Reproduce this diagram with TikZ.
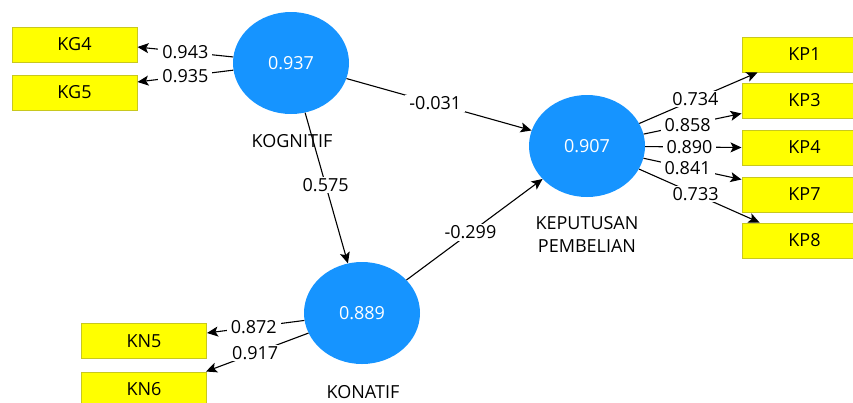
\documentclass[tikz,border=0pt]{standalone}
\usepackage{fontspec}
\setmainfont{Open Sans}
\usetikzlibrary{shapes.geometric,arrows.meta,calc}
\definecolor{lvblue}{RGB}{22,148,255}
\definecolor{boxyel}{RGB}{255,255,0}
\definecolor{boxedge}{RGB}{200,200,30}
\begin{document}
\begin{tikzpicture}[x=1pt,y=-1pt,
  every node/.style={font=\fontsize{18}{23}\selectfont},
  latent/.style={ellipse, fill=lvblue, minimum width=116pt, minimum height=102pt, inner sep=0pt, text=white},
  indicator/.style={rectangle, fill=boxyel, draw=boxedge, line width=1pt, minimum width=125pt, minimum height=35pt, inner sep=0pt},
  conn/.style={draw=black, line width=1.1pt, -{Stealth[length=11pt,width=10pt,inset=2.5pt]}},
  coef/.style={fill=white, inner xsep=4pt, inner ysep=1.5pt}
]
\clip (0,0) rectangle (853,402);
\fill[white] (0,0) rectangle (853,402);

% latent variables
\node[latent] (KG) at (291,63) {0.937};
\node[latent] (KP) at (587,146) {0.907};
\node[latent] (KN) at (362,313) {0.889};
\node (lblKG) at (292,141) {KOGNITIF};
\node[align=center] (lblKP) at (587,234) {KEPUTUSAN\\PEMBELIAN};
\node (lblKN) at (363,392) {KONATIF};

% indicators
\node[indicator] (KG4) at (74.5,44.5) {KG4};
\node[indicator] (KG5) at (74.5,92.5) {KG5};
\node[indicator] (KN5) at (144,341) {KN5};
\node[indicator] (KN6) at (144,389.5) {KN6};
\node[indicator] (KP1) at (804.5,54.5) {KP1};
\node[indicator] (KP3) at (804.5,100.5) {KP3};
\node[indicator] (KP4) at (804.5,147.5) {KP4};
\node[indicator] (KP7) at (804.5,194.5) {KP7};
\node[indicator] (KP8) at (804.5,240.5) {KP8};

% arrow end points on indicators
\coordinate (tKG4) at ($(KG4.east)+(0,2.5)$);
\coordinate (tKG5) at ($(KG5.east)+(0,-10.5)$);
\coordinate (tKN5) at ($(KN5.east)+(0,-8)$);
\coordinate (tKN6) at ($(KN6.north east)+(-1,0)$);
\coordinate (tKP1) at ($(KP1.south west)+(16,0)$);
\coordinate (tKP3) at ($(KP3.south west)+(0,-5)$);
\coordinate (tKP4) at (KP4.west);
\coordinate (tKP7) at ($(KP7.north west)+(0,3)$);
\coordinate (tKP8) at ($(KP8.north west)+(18,0)$);

% outer loadings
\draw[conn] (KG) -- node[coef,pos=0.5]{0.943} (tKG4);
\draw[conn] (KG) -- node[coef,pos=0.5]{0.935} (tKG5);
\draw[conn] (KN) -- node[coef,pos=0.52]{0.872} (tKN5);
\draw[conn] (KN) -- node[coef,pos=0.52]{0.917} (tKN6);
\draw[conn] (KP) -- node[coef,pos=0.475]{0.734} (tKP1);
\draw[conn] (KP) -- node[coef,pos=0.45]{0.858} (tKP3);
\draw[conn] (KP) -- node[coef,pos=0.46]{0.890} (tKP4);
\draw[conn] (KP) -- node[coef,pos=0.45]{0.841} (tKP7);
\draw[conn] (KP) -- node[coef,pos=0.47]{0.733} (tKP8);

% path coefficients
\draw[conn] (KG) -- node[coef,pos=0.48]{-0.031} (KP);
\draw[conn] (KG) -- node[coef,pos=0.48]{0.575} (KN);
\draw[conn] (KN) -- node[coef,pos=0.47]{-0.299} (KP);
\end{tikzpicture}
\end{document}
